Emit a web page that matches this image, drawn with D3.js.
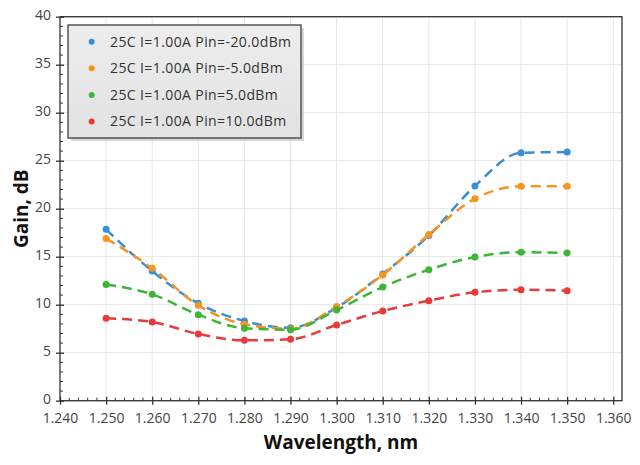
<!DOCTYPE html>
<html><head><meta charset="utf-8">
<script src="https://cdn.jsdelivr.net/npm/d3@7"></script>
<style>body{margin:0;background:#fff}svg{display:block}text{font-family:"Open Sans","Noto Sans",sans-serif}</style>
</head><body><svg id="c" width="640" height="465"></svg>
<script>
const wavelengths = [1.250,1.260,1.270,1.280,1.290,1.300,1.310,1.320,1.330,1.340,1.350];
const seriesNames = ["25C I=1.00A Pin=-20.0dBm","25C I=1.00A Pin=-5.0dBm","25C I=1.00A Pin=5.0dBm","25C I=1.00A Pin=10.0dBm"];
const gainPinM20 = [17.85,13.5,10.14,8.3,7.6,9.7,13.2,17.2,22.36,25.83,25.9];
const gainPinM5  = [16.9,13.8,9.93,7.96,7.5,9.8,13.1,17.3,21.04,22.33,22.33];
const gainPin5   = [12.1,11.08,8.96,7.54,7.4,9.45,11.84,13.65,14.97,15.46,15.39];
const gainPin10  = [8.58,8.2,6.95,6.29,6.4,7.89,9.34,10.42,11.29,11.56,11.46];
const xTicks = [1.24,1.25,1.26,1.27,1.28,1.29,1.30,1.31,1.32,1.33,1.34,1.35,1.36];
const yTicks = [0,5,10,15,20,25,30,35,40];
const colors = ["#3a8fd4","#f7931e","#3db536","#e83a3a"];
const allSeries = [gainPinM20,gainPinM5,gainPin5,gainPin10];

const svg = d3.select("#c");
const L=60, R=622, T=16.7, B=400.7;
const x = d3.scaleLinear().domain([1.24,1.3619]).range([L,R]);
const y = d3.scaleLinear().domain([0,40]).range([B,T]);

// grid
svg.append("g").selectAll("line").data(xTicks.slice(1)).join("line")
  .attr("x1",d=>x(d)).attr("x2",d=>x(d)).attr("y1",T).attr("y2",B)
  .attr("stroke","#e6e6e6").attr("stroke-width",1);
svg.append("g").selectAll("line").data(yTicks.slice(1)).join("line")
  .attr("x1",L).attr("x2",R).attr("y1",d=>y(d)).attr("y2",d=>y(d))
  .attr("stroke","#e6e6e6").attr("stroke-width",1);

// frame
svg.append("rect").attr("x",L).attr("y",T).attr("width",R-L).attr("height",B-T)
  .attr("fill","none").attr("stroke","#333").attr("stroke-width",1.3);

// minor ticks
const xMinor = d3.range(0,61).map(i=>1.24+i*0.002).filter((d,i)=>i%5!==0);
svg.append("g").selectAll("line").data(xMinor).join("line")
  .attr("x1",d=>x(d)).attr("x2",d=>x(d)).attr("y1",B).attr("y2",B-3)
  .attr("stroke","#333");
const yMinor = d3.range(0,41).filter(d=>d%5!==0);
svg.append("g").selectAll("line").data(yMinor).join("line")
  .attr("x1",L).attr("x2",L+3).attr("y1",d=>y(d)).attr("y2",d=>y(d))
  .attr("stroke","#333");

// axes
const xAxis = d3.axisBottom(x).tickValues(xTicks).tickFormat(d3.format(".3f")).tickSize(4).tickSizeOuter(0);
const gx = svg.append("g").attr("transform",`translate(0,${B})`).call(xAxis);
gx.select(".domain").remove();
gx.selectAll(".tick line").attr("y1",-4).attr("y2",4).attr("stroke","#333").attr("stroke-width",1.3);
gx.selectAll(".tick text").attr("y",12).attr("fill","#444").style("font-size","14px");

const yAxis = d3.axisLeft(y).tickValues(yTicks).tickSize(4).tickSizeOuter(0);
const gy = svg.append("g").attr("transform",`translate(${L},0)`).call(yAxis);
gy.select(".domain").remove();
gy.selectAll(".tick line").attr("x1",-4).attr("x2",4).attr("stroke","#333").attr("stroke-width",1.3);
gy.selectAll(".tick text").attr("x",-9).attr("dy","0.2em").attr("fill","#444").style("font-size","14px");

// titles
svg.append("text").attr("x",(L+R)/2).attr("y",449).attr("text-anchor","middle")
  .style("font-size","19px").style("font-weight","bold").attr("fill","#111").text("Wavelength, nm");
svg.append("text").attr("transform",`translate(28,${(T+B)/2}) rotate(-90)`).attr("text-anchor","middle")
  .style("font-size","19px").style("font-weight","bold").attr("fill","#111").text("Gain, dB");

// series
const line = d3.line().x((d,i)=>x(wavelengths[i])).y(d=>y(d)).curve(d3.curveMonotoneX);
allSeries.forEach((s,k)=>{
  const g = svg.append("g");
  g.append("path").attr("d",line(s)).attr("fill","none").attr("stroke",colors[k])
    .attr("stroke-width",2.5).attr("stroke-dasharray","10,6");
  g.selectAll("circle").data(s).join("circle")
    .attr("cx",(d,i)=>x(wavelengths[i])).attr("cy",d=>y(d)).attr("r",3.5).attr("fill",colors[k]);
});

// legend
const defs = svg.append("defs");
const grad = defs.append("linearGradient").attr("id","lg").attr("x1",0).attr("y1",0).attr("x2",0).attr("y2",1);
grad.append("stop").attr("offset","0%").attr("stop-color","#ededed");
grad.append("stop").attr("offset","100%").attr("stop-color","#e2e2e2");
const lgX=68, lgY=25, lgW=233, lgH=113;
svg.append("rect").attr("x",lgX+3).attr("y",lgY+3).attr("width",lgW).attr("height",lgH).attr("fill","#bbb").attr("opacity",0.6);
svg.append("rect").attr("x",lgX).attr("y",lgY).attr("width",lgW).attr("height",lgH)
  .attr("fill","url(#lg)").attr("stroke","#555").attr("stroke-width",1.5);
const lg = svg.append("g");
seriesNames.forEach((n,k)=>{
  const yy = lgY+16.7+k*26.6;
  lg.append("circle").attr("cx",91.7).attr("cy",yy).attr("r",3).attr("fill",colors[k]);
  lg.append("text").attr("x",110).attr("y",yy).attr("dy","0.35em").style("font-size","14px")
    .style("letter-spacing","0.4px").attr("fill","#333").text(n);
});
</script></body></html>
